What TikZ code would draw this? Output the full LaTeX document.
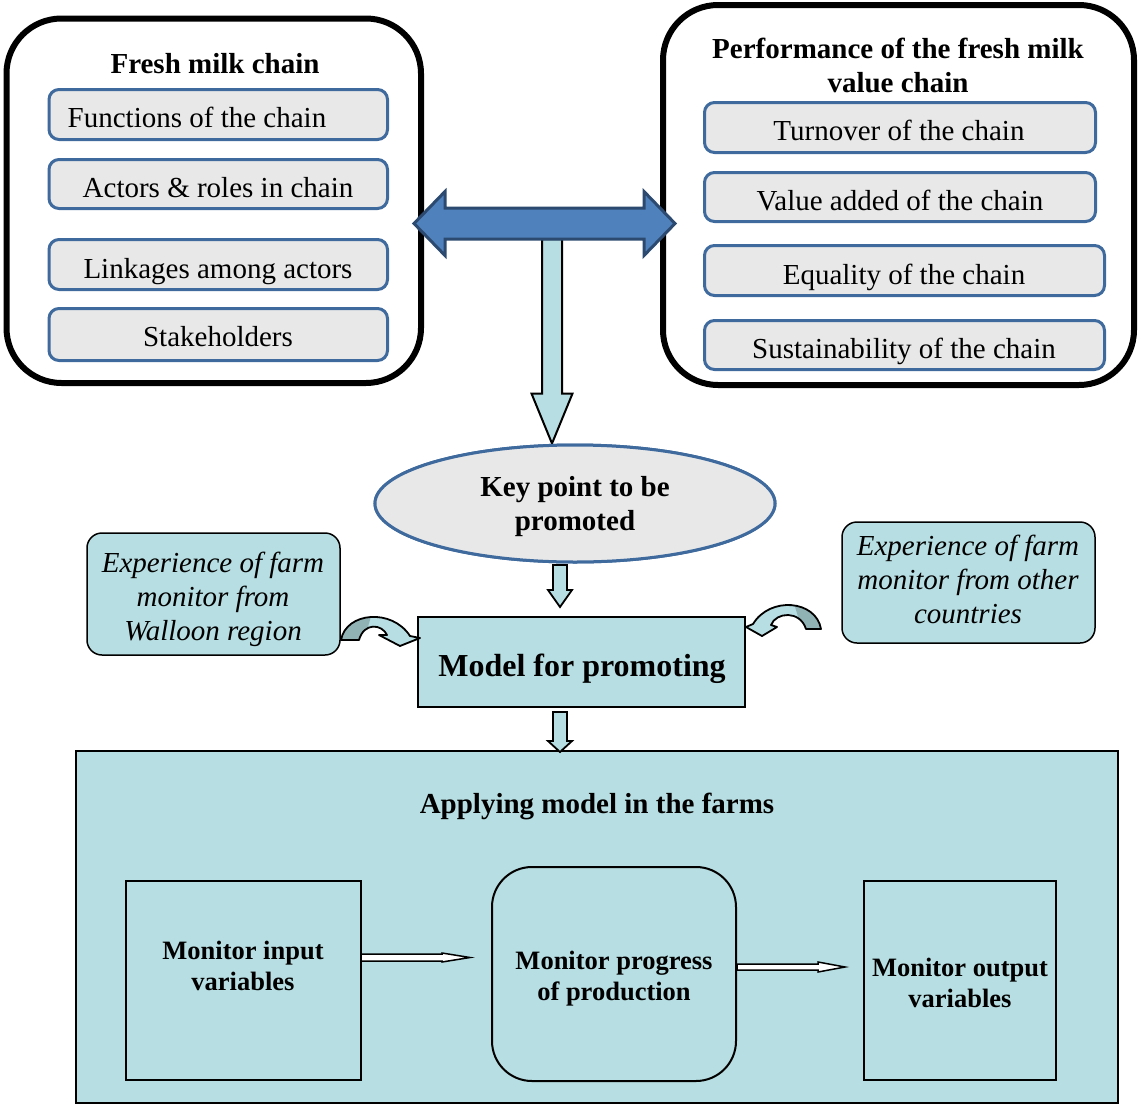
\documentclass[tikz,border=0pt]{standalone}
\usepackage{fontspec}
\setmainfont{Liberation Serif}
\usetikzlibrary{calc,shapes.geometric}

\definecolor{tealfill}{RGB}{183,222,226}
\definecolor{tealshade}{RGB}{145,178,181}
\definecolor{panelgray}{RGB}{232,232,232}
\definecolor{panelblue}{RGB}{62,106,158}
\definecolor{arrowblue}{RGB}{79,129,189}
\definecolor{arrowedge}{RGB}{44,74,112}

% block arrow pointing down: style, start, tip, half shaft, half head, head length
\newcommand{\downblock}[6]{%
  \path[#1] let \p1=(#2), \p2=(#3) in
    (\x1-#4,\y1) -- (\x1+#4,\y1) -- (\x1+#4,\y2+#6) -- (\x1+#5,\y2+#6)
    -- (\x1,\y2) -- (\x1-#5,\y2+#6) -- (\x1-#4,\y2+#6) -- cycle;}

% two-headed horizontal block arrow: style, left tip, right tip, half shaft, half head, head length
\newcommand{\twowayblock}[6]{%
  \path[#1] let \p1=(#2), \p2=(#3) in
    (\x1,\y1) -- (\x1+#6,\y1+#5) -- (\x1+#6,\y1+#4) -- (\x2-#6,\y1+#4)
    -- (\x2-#6,\y1+#5) -- (\x2,\y1) -- (\x2-#6,\y1-#5) -- (\x2-#6,\y1-#4)
    -- (\x1+#6,\y1-#4) -- (\x1+#6,\y1-#5) -- cycle;}

% slim hollow arrow pointing right: style, start, tip, half shaft, half head, head length
\newcommand{\rightblock}[6]{%
  \path[#1] let \p1=(#2), \p2=(#3) in
    (\x1,\y1+#4) -- (\x2-#6,\y1+#4) -- (\x2-#6,\y1+#5) -- (\x2,\y1)
    -- (\x2-#6,\y1-#5) -- (\x2-#6,\y1-#4) -- (\x1,\y1-#4) -- cycle;}

\begin{document}
\begin{tikzpicture}[x=1pt,y=-1pt,
  frame/.style={draw=black, line width=6pt, rounded corners=55pt, inner sep=0pt, outer sep=0pt},
  item/.style={draw=panelblue, fill=panelgray, line width=3pt, rounded corners=10pt, inner sep=0pt, outer sep=0pt},
  tealbox/.style={draw=black, fill=tealfill, line width=1.5pt, inner sep=0pt, outer sep=0pt},
  lbl/.style={inner sep=0pt, outer sep=0pt, align=center, font=\fontsize{29}{34}\selectfont},
  lblb/.style={lbl, font=\fontsize{29}{34}\selectfont\bfseries},
  lbli/.style={lbl, font=\fontsize{29}{34}\selectfont\itshape},
  lbls/.style={lbl, font=\fontsize{26.5}{31}\selectfont\bfseries},
  curl/.style={draw=black, line width=1.8pt, line join=round}
]
\useasboundingbox (0,0) rectangle (1141,1106);
\fill[white] (0,0) rectangle (1141,1106);

% ---------- upper panels ----------
\node[frame, minimum width=414.5pt, minimum height=364.5pt] (chain) at (213.75,200.75) {};
\node[frame, minimum width=471pt, minimum height=380pt] (perf) at (898.5,195) {};

\node[item, minimum width=338.5pt, minimum height=50pt] (f1) at (218.25,114.5) {};
\node[item, minimum width=338.5pt, minimum height=49pt] (f2) at (218.25,184) {};
\node[item, minimum width=338.5pt, minimum height=50pt] (f3) at (218.25,264.5) {};
\node[item, minimum width=338.5pt, minimum height=52pt] (f4) at (218.25,334.5) {};

\node[item, minimum width=391pt, minimum height=50pt] (p1) at (900,127.5) {};
\node[item, minimum width=391pt, minimum height=49pt] (p2) at (900,197) {};
\node[item, minimum width=400pt, minimum height=50pt] (p3) at (904.5,270.5) {};
\node[item, minimum width=400pt, minimum height=49pt] (p4) at (904.5,345) {};

% ---------- key point ----------
\node[ellipse, draw=panelblue, fill=panelgray, line width=3pt, inner sep=0pt,
      minimum width=400pt, minimum height=117pt] (kp) at (575,503.5) {};

% arrows out of the two panels
\coordinate (dblL) at (414,223.5);
\coordinate (dblR) at (675,223.5);
\coordinate (dn0) at (552,239);
\coordinate (dn1) at (dn0 |- kp.north);
\downblock{fill=tealfill, draw=black, line width=2pt}{dn0}{dn1}{10pt}{20.5pt}{50pt}
\twowayblock{fill=arrowblue, draw=arrowedge, line width=3pt}{dblL}{dblR}{15.5pt}{32pt}{31pt}
\node[ellipse, draw=panelblue, fill=panelgray, line width=3pt, inner sep=0pt,
      minimum width=400pt, minimum height=117pt] at (kp) {};

% ---------- model ----------
\node[tealbox, minimum width=327pt, minimum height=90pt] (model) at (581.5,662) {};
\node[tealbox, rounded corners=15pt, minimum width=253pt, minimum height=122pt] (wal) at (213.5,594) {};
\node[tealbox, rounded corners=15pt, minimum width=253pt, minimum height=121pt] (oth) at (968.5,582.5) {};

\coordinate (a1s) at (560,565);
\coordinate (a1e) at ($(a1s |- model.north)+(0,-10)$);
\downblock{fill=tealfill, draw=black, line width=1.8pt}{a1s}{a1e}{7pt}{12pt}{17pt}

% curved arrow from the Walloon box
\path[save path=\curlL] (341,640) .. controls (346,612) and (392,608) .. (410,636)
  -- (420,638) -- (400,646) -- (379,635) -- (387,635)
  .. controls (382,624) and (364,622) .. (359,640) -- cycle;
\path[fill=tealfill, use path=\curlL];
\begin{scope}
  \path[use path=\curlL, clip];
  \fill[tealshade] (330,600) -- (376,600) -- (361,650) -- (330,650) -- cycle;
\end{scope}
\path[curl, use path=\curlL];

% curved arrow from the other-countries box
\path[save path=\curlR] (821,629) .. controls (816,600) and (770,596) .. (753,624)
  -- (746,627) -- (762,636) -- (777,627) -- (771,625)
  .. controls (776,612) and (800,610) .. (806,629) -- cycle;
\path[fill=tealfill, use path=\curlR];
\begin{scope}
  \path[use path=\curlR, clip];
  \fill[tealshade] (790,590) -- (840,590) -- (840,640) -- (805,640) -- cycle;
\end{scope}
\path[curl, use path=\curlR];

% ---------- applying the model ----------
\node[tealbox, line width=2pt, minimum width=1042pt, minimum height=352pt] (big) at (597,927) {};
\coordinate (a2s) at (560,712);
\coordinate (a2e) at ($(a2s |- big.north)+(0,1)$);
\downblock{fill=tealfill, draw=black, line width=1.8pt}{a2s}{a2e}{7pt}{12pt}{11pt}

\node[tealbox, line width=2pt, minimum width=235pt, minimum height=199pt] (inb) at (243.5,980.5) {};
\node[tealbox, line width=2pt, rounded corners=40pt, minimum width=244pt, minimum height=214pt] (prog) at (614,974) {};
\node[tealbox, line width=2pt, minimum width=192pt, minimum height=199pt] (outb) at (960,980.5) {};

\coordinate (h1s) at ($(inb.east)+(0,-23)$);
\coordinate (h1e) at ($(h1s -| prog.west)+(-22,0)$);
\rightblock{fill=white, draw=black, line width=1.5pt}{h1s}{h1e}{3.5pt}{4.5pt}{28pt}
\coordinate (h2s) at ($(prog.east)+(1,-7)$);
\coordinate (h2e) at ($(h2s -| outb.west)+(-19,0)$);
\rightblock{fill=white, draw=black, line width=1.5pt}{h2s}{h2e}{3pt}{5pt}{27pt}

% ---------- texts ----------
\node[lblb, anchor=base] (t0) at (215,73) {Fresh milk chain};
\node[lbl, anchor=base] (t1) at (197,127) {Functions of the chain};
\node[lbl, anchor=base] (t2) at (218,197) {Actors \& roles in chain};
\node[lbl, anchor=base] (t3) at (218,278) {Linkages among actors};
\node[lbl, anchor=base] (t4) at (218,346) {Stakeholders};

\node[lblb] (u0) at (898,65) {Performance of the fresh milk\\value chain};
\node[lbl, anchor=base] (u1) at (899,140) {Turnover of the chain};
\node[lbl, anchor=base] (u2) at (900,210) {Value added of the chain};
\node[lbl, anchor=base] (u3) at (904,284) {Equality of the chain};
\node[lbl, anchor=base] (u4) at (904,358) {Sustainability of the chain};

\node[lblb] (kpt) at (575,507) {Key point to be\\promoted};
\node[lbl, anchor=base, font=\fontsize{32}{38}\selectfont\bfseries] (mt) at (582,676) {Model for promoting};
\node[lbli] (walt) at (213,599) {Experience of farm\\monitor from\\Walloon region};
\node[lbli] (otht) at (968,579) {Experience of farm\\monitor from other\\countries};

\node[lblb, anchor=base] (bigt) at (597,813) {Applying model in the farms};
\node[lbls] (int) at (243,965.5) {Monitor input\\variables};
\node[lbls] (progt) at (614,978.5) {Monitor progress\\of production};
\node[lbls] (outt) at (960,982.5) {Monitor output\\variables};
\end{tikzpicture}
\end{document}
